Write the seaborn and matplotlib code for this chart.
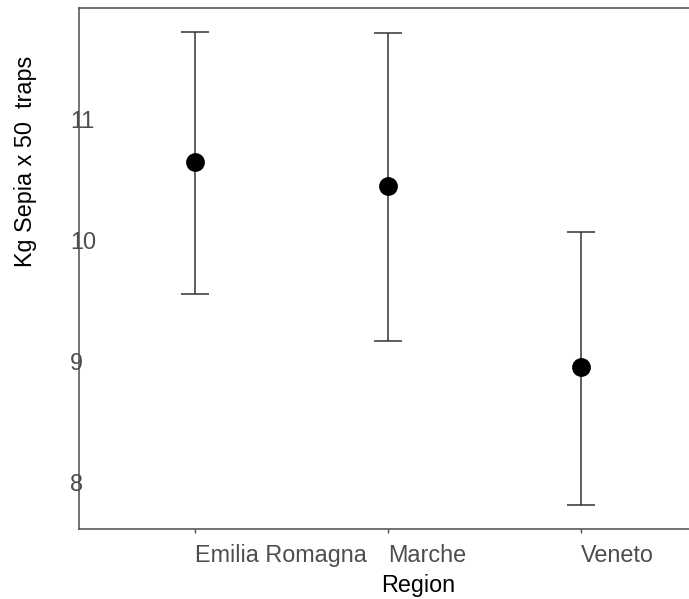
import matplotlib
matplotlib.use("Agg")
import matplotlib.pyplot as plt
import seaborn as sns
import pandas as pd
import numpy as np

# Mean catch per region with its confidence interval
regions = ["Emilia Romagna", "Marche", "Veneto"]
mean_kg = [10.645, 10.45, 8.95]
lower_kg = [9.557, 9.17, 7.81]
upper_kg = [11.72, 11.707, 10.07]
y_ticks = [8, 9, 10, 11]

df = pd.DataFrame({"Region": regions, "kg": mean_kg,
                   "lo": lower_kg, "hi": upper_kg})

sns.set_theme(style="white")
plt.rcParams["font.family"] = ["Liberation Sans", "DejaVu Sans"]

W, H = 689, 599
fig = plt.figure(figsize=(W / 100, H / 100), dpi=100)
# panel in pixel terms: left 79, right 697 (runs past the edge), top 8, bottom 529
left, right, top, bottom = 79, 697, 8, 529
ax = fig.add_axes([left / W, 1 - bottom / H, (right - left) / W, (bottom - top) / H])

pos = np.arange(len(regions))
err = [df["kg"] - df["lo"], df["hi"] - df["kg"]]
ax.errorbar(pos, df["kg"], yerr=err, fmt="none", ecolor="#333333",
            elinewidth=1.1, capsize=10.4, capthick=1.1, zorder=1)
sns.pointplot(data=df, x="Region", y="kg", order=regions, color="black",
              linestyle="none", markers="o", markersize=11.5,
              errorbar=None, ax=ax, zorder=3)

ax.set_xlim(-0.6, 2.6)
ax.set_ylim(7.6155, 11.9155)
ax.set_yticks(y_ticks)
ax.set_yticklabels([str(t) for t in y_ticks])

for s in ["left", "top", "bottom", "right"]:
    ax.spines[s].set_visible(True)
    ax.spines[s].set_color("#4D4D4D")
    ax.spines[s].set_linewidth(1.1)

ax.tick_params(axis="x", length=3, width=1.0, color="#4D4D4D", pad=8,
               labelsize=16.8, labelcolor="#4D4D4D", bottom=True)
ax.tick_params(axis="y", length=0, pad=6.5, labelsize=16.8,
               labelcolor="#4D4D4D", left=True)
for lab in ax.get_xticklabels():
    lab.set_ha("left")
for lab in ax.get_yticklabels():
    lab.set_ha("left")

ax.set_xlabel("Region", fontsize=16.8, color="black")
ax.xaxis.label.set(ha="left", va="baseline")
ax.xaxis.set_label_coords((381 - left) / (right - left), -(592 - bottom) / (bottom - top))

ax.set_ylabel("Kg Sepia x 50  traps", fontsize=16.8, color="black")
ax.yaxis.label.set(ha="center", va="bottom", rotation_mode="default")
ax.yaxis.set_label_coords((26 - left) / (right - left), (bottom - 267) / (bottom - top))

ax.grid(False)
fig.savefig("out.png", dpi=100)
